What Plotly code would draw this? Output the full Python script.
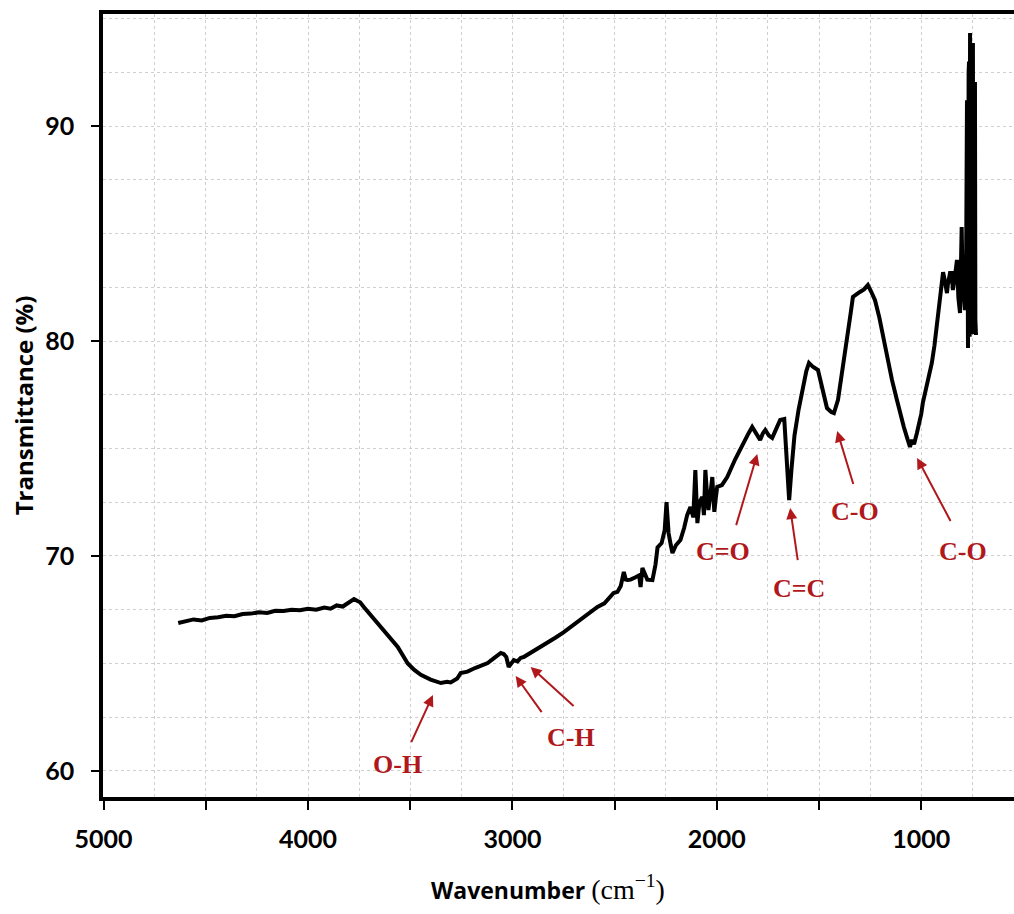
import plotly.graph_objects as go

# ---------------- data ----------------
wavenumber = [
    4635, 4600, 4560, 4520, 4480, 4440, 4400, 4360, 4320, 4280, 4240, 4200, 4160, 4120,
    4080, 4040, 4000, 3960, 3920, 3890, 3860, 3830, 3800, 3785, 3775, 3760, 3745, 3727,
    3690, 3644, 3600, 3561, 3512, 3480, 3448, 3400, 3350, 3320, 3302, 3270, 3253, 3220,
    3180, 3140, 3121, 3090, 3057, 3043, 3030, 3018, 3005, 2993, 2975, 2960, 2945, 2900,
    2860, 2828, 2790, 2750, 2713, 2666, 2630, 2600, 2584, 2550, 2505, 2486, 2470, 2455,
    2445, 2437, 2422, 2400, 2380, 2373, 2364, 2340, 2315, 2300, 2290, 2270, 2255, 2246,
    2240, 2236, 2225, 2217, 2200, 2178, 2160, 2145, 2129, 2115, 2105, 2100, 2095, 2085,
    2071, 2063, 2056, 2048, 2041, 2030, 2022, 2017, 2012, 2005, 1998, 1975, 1949, 1910,
    1871, 1845, 1827, 1810, 1788, 1775, 1763, 1745, 1729, 1710, 1690, 1670, 1660, 1646,
    1635, 1620, 1600, 1580, 1562, 1549, 1530, 1505, 1485, 1461, 1440, 1427, 1407, 1385,
    1363, 1345, 1334, 1315, 1300, 1280, 1261, 1245, 1226, 1205, 1187, 1165, 1143, 1120,
    1104, 1085, 1070, 1062, 1055, 1045, 1035, 1021, 1010, 1000, 992, 970, 948, 935,
    924, 910, 900, 893, 885, 874, 870, 859, 851, 845, 835, 825, 818, 810, 802,
    798, 786, 780, 776, 773, 771, 768, 766, 763, 761, 758, 756, 753, 751, 749,
    747, 745, 742, 740, 737, 735, 732,
]
transmittance = [
    66.88, 66.95, 67.05, 67.00, 67.12, 67.15, 67.22, 67.20, 67.30, 67.32, 67.38, 67.35, 67.45, 67.44,
    67.50, 67.48, 67.55, 67.50, 67.60, 67.55, 67.70, 67.65, 67.82, 67.90, 68.00, 67.92, 67.85, 67.63,
    67.20, 66.70, 66.20, 65.77, 65.00, 64.70, 64.47, 64.25, 64.09, 64.15, 64.12, 64.30, 64.56, 64.62,
    64.80, 64.95, 65.02, 65.25, 65.49, 65.44, 65.30, 64.84, 65.05, 65.16, 65.10, 65.26, 65.30, 65.55,
    65.80, 66.00, 66.20, 66.45, 66.70, 67.02, 67.30, 67.50, 67.63, 67.80, 68.28, 68.33, 68.60, 69.26,
    68.90, 68.88, 68.90, 69.00, 69.10, 68.56, 69.44, 68.90, 68.88, 69.60, 70.40, 70.60, 71.20, 72.50,
    71.60, 71.07, 70.50, 70.14, 70.50, 70.74, 71.30, 71.90, 72.28, 71.80, 74.00, 72.60, 71.53, 72.50,
    72.74, 71.90, 74.00, 72.90, 72.14, 73.00, 73.67, 72.80, 72.05, 72.70, 73.21, 73.30, 73.67, 74.50,
    75.26, 75.70, 76.00, 75.70, 75.40, 75.70, 75.86, 75.60, 75.49, 75.90, 76.33, 76.37, 75.00, 72.60,
    74.00, 75.60, 76.80, 77.80, 78.60, 78.98, 78.80, 78.65, 77.86, 76.88, 76.70, 76.65, 77.26, 78.60,
    80.19, 81.30, 82.05, 82.20, 82.28, 82.40, 82.60, 82.30, 81.90, 81.10, 80.19, 79.20, 78.19, 77.30,
    76.65, 76.00, 75.53, 75.30, 75.07, 75.40, 75.20, 75.72, 76.10, 76.60, 77.12, 78.00, 78.98, 79.80,
    80.65, 81.60, 82.37, 83.20, 82.84, 82.23, 82.60, 83.16, 83.16, 82.37, 83.00, 83.77, 82.00, 81.30, 85.30,
    83.00, 81.44, 84.00, 91.20, 80.50, 79.67, 92.50, 93.00, 80.20, 94.33, 81.00, 82.00, 93.50, 80.65, 92.80,
    93.86, 80.40, 80.37, 91.50, 92.05, 81.00, 80.28,
]

x_tick_vals = [5000, 4500, 4000, 3500, 3000, 2500, 2000, 1500, 1000]
x_tick_text = ["5000", "", "4000", "", "3000", "", "2000", "", "1000"]
y_tick_vals = [60, 70, 80, 90]
y_tick_text = ["60", "70", "80", "90"]

# band labels: text, arrow-head (x, y), tail offset (px), text position (x, y)
band_text = ["O-H", "C-H", "C-H", "C=O", "C=C", "C-O", "C-O"]
head_x = [3389, 2984, 2911, 1802, 1641, 1411, 1020]
head_y = [63.53, 64.42, 64.84, 74.74, 72.23, 75.81, 74.56]
tail_dx = [-23, 28, 45, -22, 8, 17, 35]
tail_dy = [50, 39, 41, 74, 55, 56, 66]
label_x = [3560, 2715, None, 1968, 1597, 1323, 795]
label_y = [60.28, 61.58, None, 70.19, 68.47, 72.09, 70.19]

RED = "#b0181b"

fig = go.Figure()
fig.add_trace(go.Scatter(
    x=wavenumber, y=transmittance, mode="lines",
    line=dict(color="black", width=4),
    showlegend=False, hoverinfo="skip",
))

annotations = []
for i in range(len(band_text)):
    annotations.append(dict(
        x=head_x[i], y=head_y[i], xref="x", yref="y",
        ax=tail_dx[i], ay=tail_dy[i], axref="pixel", ayref="pixel",
        showarrow=True, arrowhead=2, arrowsize=1.1, arrowwidth=2,
        arrowcolor=RED, text=" ", standoff=0,
        font=dict(size=2),
    ))
    if label_x[i] is not None:
        annotations.append(dict(
            x=label_x[i], y=label_y[i], xref="x", yref="y",
            text="<b>%s</b>" % band_text[i], showarrow=False,
            font=dict(family="Liberation Serif", size=26, color=RED),
            xanchor="center", yanchor="middle",
        ))

annotations.append(dict(
    x=0.488, y=-0.116, xref="paper", yref="paper",
    xanchor="center", yanchor="middle", showarrow=False,
    text="<b>Wavenumber</b> <span style='font-family:Liberation Serif;font-size:28px'>(cm<sup>−1</sup>)</span>",
    font=dict(family="Open Sans", size=23, color="black"),
))

grid_color = "#cfcfcf"
fig.update_layout(
    width=1014, height=914,
    margin=dict(l=103, r=0, t=14, b=117),
    paper_bgcolor="white", plot_bgcolor="white",
    annotations=annotations,
    xaxis=dict(
        range=[5003, 546],
        tickmode="array", tickvals=x_tick_vals, ticktext=x_tick_text,
        ticks="outside", ticklen=9, tickwidth=2, tickcolor="black",
        ticklabelstandoff=8,
        tickfont=dict(family="Lato", size=25, color="black", weight="bold"),
        showline=True, linewidth=3.5, linecolor="black", mirror=True,
        showgrid=True, gridcolor=grid_color, griddash="dot", gridwidth=1,
        minor=dict(dtick=250, tick0=0, showgrid=True, gridcolor=grid_color,
                   griddash="dot", gridwidth=1, ticks=""),
        zeroline=False,
    ),
    yaxis=dict(
        range=[58.79, 95.21],
        tickmode="array", tickvals=y_tick_vals, ticktext=y_tick_text,
        ticks="outside", ticklen=8, tickwidth=2, tickcolor="black",
        ticklabelstandoff=12,
        tickfont=dict(family="Lato", size=25, color="black", weight="bold"),
        showline=True, linewidth=3.5, linecolor="black", mirror=False,
        showgrid=True, gridcolor=grid_color, griddash="dot", gridwidth=1,
        minor=dict(dtick=2.5, tick0=0, showgrid=True, gridcolor=grid_color,
                   griddash="dot", gridwidth=1, ticks=""),
        zeroline=False,
        title=dict(text="<b>Transmittance (%)</b>",
                   font=dict(family="Open Sans", size=24, color="black"),
                   standoff=6),
    ),
)

fig.write_html("out.html")
